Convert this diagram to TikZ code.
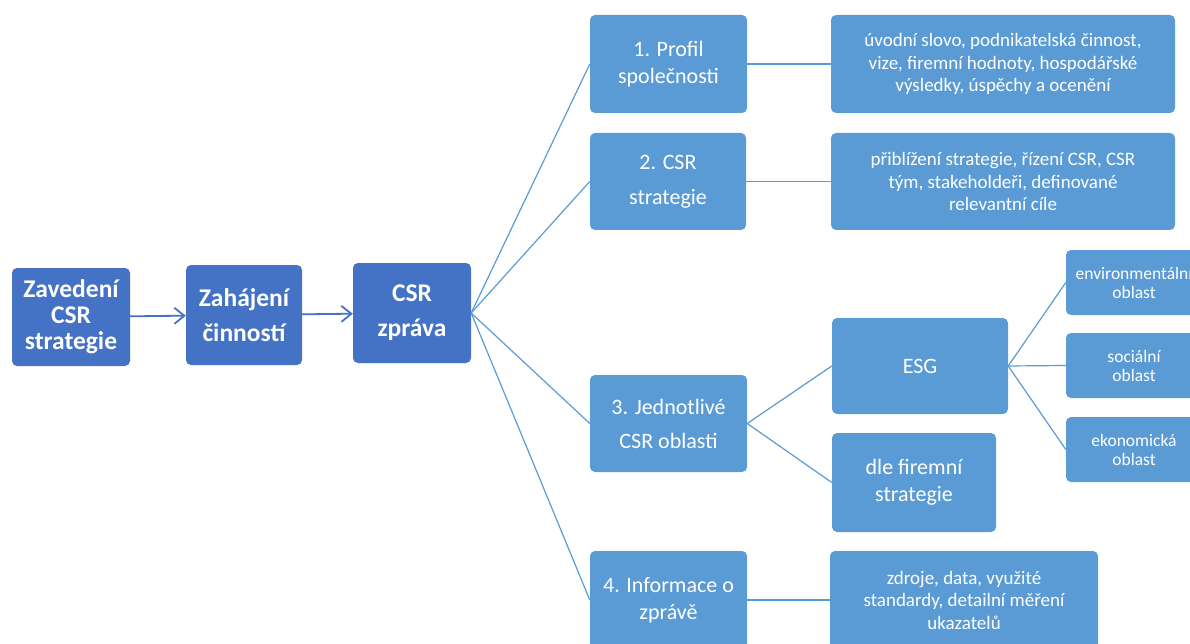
\documentclass[tikz,border=0pt]{standalone}
\usepackage{fontspec}
\setmainfont{Carlito}
\usetikzlibrary{arrows.meta}
\definecolor{darkbox}{HTML}{4472C4}
\definecolor{lightbox}{HTML}{5B9BD5}
\tikzset{
  mainbox/.style={fill=darkbox, rounded corners=5pt, text=white, align=center, inner sep=0pt,
    font=\fontsize{25.5}{26}\selectfont\bfseries},
  areabox/.style={fill=lightbox, rounded corners=5pt, text=white, align=center, inner sep=0pt,
    font=\fontsize{22}{27}\selectfont},
  detailbox/.style={areabox, font=\fontsize{19}{22.5}\selectfont},
  smallbox/.style={areabox, font=\fontsize{17.5}{19}\selectfont},
  flow/.style={-{Straight Barb[length=10pt,width=16pt,line width=1.8pt]}, darkbox, line width=1.8pt},
  link/.style={lightbox, line width=1.2pt}
}
\begin{document}
\begin{tikzpicture}[x=1pt, y=-1pt]
            \useasboundingbox (0,0) rectangle (1190,644);

            % Left side - main steps
            \node[mainbox, minimum width=118pt, minimum height=98pt] (zav) at (71, 317) {Zavedení\\CSR\\strategie};
            \node[mainbox, minimum width=116pt, minimum height=100pt] (zah) at (244, 315) {Zahájení\\[9pt]činností};
            \node[mainbox, minimum width=118pt, minimum height=100pt] (zpr) at (412, 313) {CSR\\[9pt]zpráva};

            \draw[flow] (zav) -- (zah);
            \draw[flow] (zah) -- (zpr);

            % Report parts
            \node[areabox, minimum width=157pt, minimum height=98pt] (p1) at (668.5, 64) {1. Profil\\společnosti};
            \node[areabox, minimum width=156pt, minimum height=97pt] (p2) at (668, 181.5) {2. CSR\\[8pt]strategie};
            \node[areabox, minimum width=157pt, minimum height=97pt] (p3) at (668.5, 423.5) {3. Jednotlivé\\[7pt]CSR oblasti};
            \node[areabox, minimum width=157pt, minimum height=98pt] (p4) at (668.5, 600) {4. Informace o\\zprávě};

            \draw[link] (zpr.east) -- (p1.west);
            \draw[link] (zpr.east) -- (p2.west);
            \draw[link] (zpr.east) -- (p3.west);
            \draw[link] (zpr.east) -- (p4.west);

            % Details
            \node[detailbox, minimum width=344pt, minimum height=98pt] (d1) at (1003, 64) {úvodní slovo, podnikatelská činnost,\\vize, firemní hodnoty, hospodářské\\výsledky, úspěchy a ocenění};
            \node[detailbox, minimum width=344pt, minimum height=97pt] (d2) at (1003, 181.5) {přiblížení strategie, řízení CSR, CSR\\tým, stakeholdeři, definované\\relevantní cíle};
            \node[areabox, minimum width=176pt, minimum height=96pt] (esg) at (920, 366) {ESG};
            \node[areabox, minimum width=164pt, minimum height=99pt] (dle) at (914, 482.5) {dle firemní\\strategie};
            \node[detailbox, minimum width=268pt, minimum height=98pt] (d4) at (964, 600) {zdroje, data, využité\\standardy, detailní měření\\ukazatelů};

            \draw[link] (p1) -- (d1);
            \draw[link] (p2) -- (d2);
            \draw[link] (p3.east) -- (esg.west);
            \draw[link] (p3.east) -- (dle.west);
            \draw[link] (p4) -- (d4);

            % ESG areas
            \node[smallbox, minimum width=136pt, minimum height=65pt] (env) at (1134, 282.5) {environmentální\\oblast};
            \node[smallbox, minimum width=136pt, minimum height=65pt] (soc) at (1134, 365.5) {sociální\\oblast};
            \node[smallbox, minimum width=136pt, minimum height=65pt] (eko) at (1134, 449.5) {ekonomická\\oblast};

            \draw[link] (esg.east) -- (env.west);
            \draw[link] (esg.east) -- (soc.west);
            \draw[link] (esg.east) -- (eko.west);
\end{tikzpicture}
\end{document}
